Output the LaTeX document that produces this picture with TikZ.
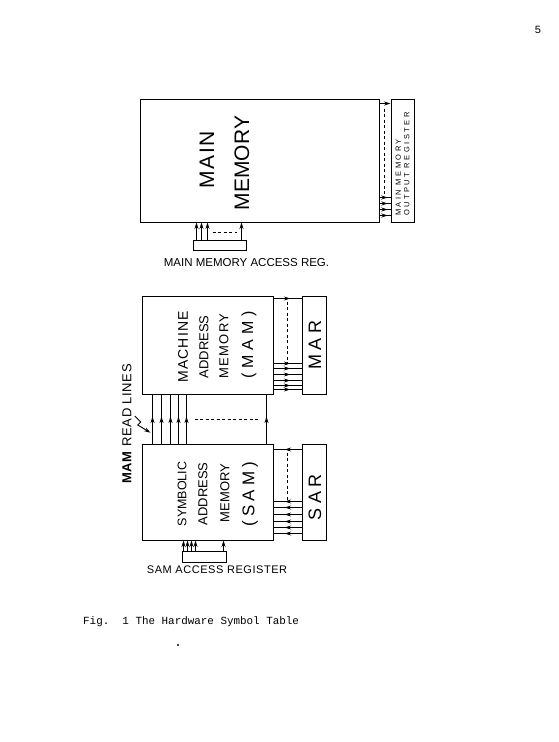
\documentclass[tikz,border=0pt]{standalone}
\usepackage{fontspec}
\setmainfont{Liberation Sans}
\newfontfamily\typew{Liberation Mono}
\usetikzlibrary{arrows.meta,calc,decorations.markings}
\newcommand{\fsz}[1]{\fontsize{#1}{#1}\selectfont}
\newcommand{\lsp}[1]{\addfontfeature{LetterSpace=#1}}
\begin{document}
\begin{tikzpicture}[x=1pt,y=-1pt,
  >={Stealth[length=6.5pt,width=4pt]},
  box/.style={draw,line width=1pt,inner sep=0pt},
  conn/.style={line width=0.9pt},
  midarrow/.style={conn,postaction={decorate},
    decoration={markings,mark=at position #1 with {\arrow{Stealth[length=6.5pt,width=4pt]}}}},
  midarrow/.default=0.6,
  endarrow/.style={conn,->},
  dashline/.style={line width=0.8pt,dash pattern=on 3pt off 2.5pt},
  lbl/.style={inner sep=0pt},
  rlbl/.style={inner sep=0pt,rotate=90}]
\useasboundingbox (0,0) rectangle (559,742);

% ---------- boxes ----------
\node[box,minimum width=239pt,minimum height=123pt] (mm) at (259.5,160.5) {};
\node[box,minimum width=23pt,minimum height=123pt] (mor) at (402.5,160.5) {};
\node[box,minimum width=53pt,minimum height=10pt] (mmar) at (219.5,245) {};
\node[box,minimum width=131pt,minimum height=98pt] (mam) at (207.5,345) {};
\node[box,minimum width=24pt,minimum height=98pt] (mar) at (314,345) {};
\node[box,minimum width=131pt,minimum height=96pt] (sam) at (207.5,492) {};
\node[box,minimum width=24pt,minimum height=96pt] (sar) at (314,492) {};
\node[box,minimum width=44pt,minimum height=11pt] (samr) at (204,556.5) {};

% ---------- texts in boxes ----------
\node[rlbl,font=\fsz{21}\lsp{8}] (tmain) at (207,160) {MAIN};
\node[rlbl,font=\fsz{21}] (tmem) at (242,163) {MEMORY};
\node[rlbl,anchor=west,align=left,font=\fontsize{7.5}{8.5}\selectfont\lsp{33}] (tmor) at (402.5,216) {MAIN MEMORY\\OUTPUT REGISTER};

\node[rlbl,font=\fsz{14}\lsp{8}] (t1) at (183,347) {MACHINE};
\node[rlbl,font=\fsz{13}] (t2) at (204,347) {ADDRESS};
\node[rlbl,font=\fsz{13}\lsp{10}] (t3) at (224,346) {MEMORY};
\node[rlbl,font=\fsz{16}\lsp{30}] (t4) at (249,345) {(MAM)};

\node[rlbl,font=\fsz{12.5}] (s1) at (182,494) {SYMBOLIC};
\node[rlbl,font=\fsz{13}] (s2) at (203,494) {ADDRESS};
\node[rlbl,font=\fsz{13}] (s3) at (225,493) {MEMORY};
\node[rlbl,font=\fsz{17}\lsp{25}] (s4) at (250,494) {(SAM)};

\node[rlbl,font=\fsz{18}\lsp{25}] (tmar) at (315,345) {MAR};
\node[rlbl,font=\fsz{18}\lsp{25}] (tsar) at (315,497) {SAR};

% ---------- outside labels ----------
\node[lbl,font=\fsz{11.5}] (lmmar) at (246.5,263) {MAIN MEMORY ACCESS REG.};
\node[lbl,font=\fsz{11}\lsp{5}] (lsamr) at (217,570) {SAM ACCESS REGISTER};
\node[rlbl,font=\fsz{13}\lsp{5}] (lread) at (127,424) {\textbf{MAM} READ LINES};
\node[lbl,anchor=base west,font=\typew\fsz{10.9}] (cap) at (83,624) {Fig.\ \ 1 The Hardware Symbol Table};
\node[lbl,font=\typew\fsz{11}] (pnum) at (538,30) {5};
\fill (178,645) circle (1.2pt);

% ---------- main memory <-> output register ----------
\draw[endarrow] ($(mm.north east)+(0,5)$) -- ($(mor.north west)+(0,5)$);
\foreach \d in {7,13,19,25}
  \draw[midarrow=0.75] ($(mm.south east)+(0,-\d)$) -- ($(mor.south west)+(0,-\d)$);
\draw[dashline] ($(mm.north east)!0.4!(mor.north west)+(0,10)$) -- ($(mm.south east)!0.4!(mor.south west)+(0,-28)$);

% ---------- main memory access register ----------
\foreach \d in {4,9,15} {
  \coordinate (q) at ($(mmar.north west)+(\d,0)$);
  \draw[endarrow] (q) -- (q |- mm.south);
}
\coordinate (q2) at ($(mmar.north east)+(-5,0)$);
\draw[endarrow] (q2) -- (q2 |- mm.south);
\draw[dashline] ($(mmar.north west)+(20,-7)$) -- ($(mmar.north west)+(44,-7)$);

% ---------- MAM -> MAR ----------
\draw[midarrow] ($(mam.north east)+(0,3)$) -- ($(mar.north west)+(0,3)$);
\foreach \d in {5,9,14,20,26,31}
  \draw[midarrow] ($(mam.south east)+(0,-\d)$) -- ($(mar.south west)+(0,-\d)$);
\draw[dashline] ($(mam.north east)!0.5!(mar.north west)+(0,6)$) -- ($(mam.south east)!0.5!(mar.south west)+(0,-32)$);

% ---------- MAM read lines ----------
\foreach \d in {11,20,29,37,45}
  \draw[midarrow=0.55] ($(sam.north west)+(\d,0)$) -- ($(mam.south west)+(\d,0)$);
\draw[midarrow=0.55] ($(sam.north east)+(-7,0)$) -- ($(mam.south east)+(-7,0)$);
\draw[dashline] ($(sam.north west)!0.5!(mam.south west)+(53,0)$) -- ($(sam.north west)!0.5!(mam.south west)+(118,0)$);
\coordinate (zz) at ($(sam.north west)!0.22!(mam.south west)+(9,0)$);
\draw[conn,->] ($(lread.south)+(3,-8)$) -- ++(6,6) -- ++(-3,3) -- (zz);

% ---------- SAR -> SAM ----------
\draw[midarrow] ($(sar.north west)+(0,6)$) -- ($(sam.north east)+(0,6)$);
\foreach \d in {7,13,19,26,33,39}
  \draw[midarrow] ($(sar.south west)+(0,-\d)$) -- ($(sam.south east)+(0,-\d)$);
\draw[dashline] ($(sam.north east)!0.5!(sar.north west)+(0,9)$) -- ($(sam.south east)!0.5!(sar.south west)+(0,-40)$);

% ---------- SAM access register ----------
\foreach \d in {2,6,10,14} {
  \coordinate (r) at ($(samr.north west)+(\d,0)$);
  \draw[endarrow] (r) -- (r |- sam.south);
}
\coordinate (r2) at ($(samr.north east)+(-3,0)$);
\draw[endarrow] (r2) -- (r2 |- sam.south);
\end{tikzpicture}
\end{document}
